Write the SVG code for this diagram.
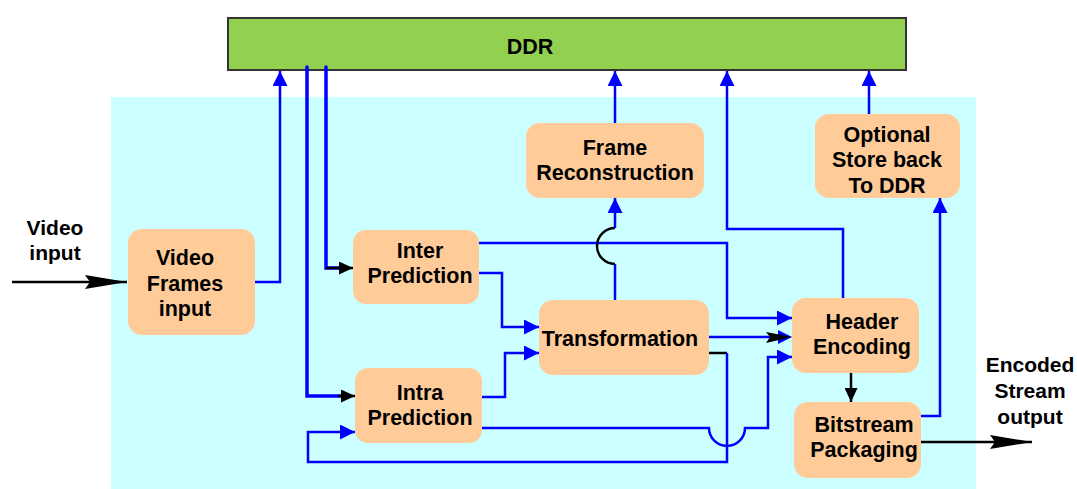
<svg xmlns="http://www.w3.org/2000/svg" width="1077" height="489" viewBox="0 0 1077 489">
<style>
.node{fill:#FFCC99;stroke:none}
.t{font-family:"Liberation Sans",Arial,sans-serif;font-weight:bold;font-size:21.5px;fill:#000;text-anchor:middle}
.lbl{font-family:"Liberation Sans",Arial,sans-serif;font-weight:bold;font-size:21px;fill:#000;text-anchor:middle}
.b{fill:none;stroke:#0000FF;stroke-width:2.5}
.bt{fill:none;stroke:#0000FF;stroke-width:3.5;stroke-linecap:round}
.k{fill:none;stroke:#000;stroke-width:2.5}
</style>
<defs>
<marker id="ab" markerUnits="userSpaceOnUse" markerWidth="15" markerHeight="15" refX="15" refY="7.5" orient="auto"><path d="M0,0 L15,7.5 L0,15 z" fill="#0000FF"/></marker>
<marker id="ak" markerUnits="userSpaceOnUse" markerWidth="14" markerHeight="13" refX="14" refY="6.5" orient="auto"><path d="M0,0 L14,6.5 L0,13 z" fill="#000"/></marker>
<marker id="akl" markerUnits="userSpaceOnUse" markerWidth="42" markerHeight="14" refX="42" refY="7" orient="auto"><path d="M0,0 L42,7 L0,14 L5,7 z" fill="#000"/></marker>
</defs>
<rect x="0" y="0" width="1077" height="489" fill="#FFFFFF"/>
<rect x="111" y="97" width="865" height="392" fill="#CCFFFF"/>
<g id="ddr">
<rect x="228" y="18" width="678" height="52" fill="#92D050" stroke="#333333" stroke-width="2"/>
<text class="t" x="530" y="54" font-size="20">DDR</text>
</g>
<g id="connectors">
<line class="k" x1="12" y1="282" x2="127" y2="282" marker-end="url(#akl)"/>
<polyline class="b" points="254,282 280,282 280,71" marker-end="url(#ab)"/>
<polyline class="bt" points="326,67 326,268 340,268"/>
<line class="k" x1="326" y1="268" x2="353" y2="268" marker-end="url(#ak)"/>
<polyline class="bt" points="307,67 307,396 340,396"/>
<line class="k" x1="338" y1="396" x2="355" y2="396" marker-end="url(#ak)"/>
<polyline class="b" points="478,273 502,273 502,327 539,327" marker-end="url(#ab)"/>
<polyline class="b" points="480,397 505,397 505,353 539,353" marker-end="url(#ab)"/>
<polyline class="b" points="474,243 727,243 727,318 792,318" marker-end="url(#ab)"/>
<path class="b" d="M615,300 L615,264"/>
<path d="M615,264 A18,18 0 0 1 615,228" fill="none" stroke="#000" stroke-width="2.5"/>
<path class="b" d="M615,228 L615,198" marker-end="url(#ab)"/>
<line class="b" x1="615" y1="123" x2="615" y2="71" marker-end="url(#ab)"/>
<polyline class="b" points="843,298 843,229 727,229 727,71" marker-end="url(#ab)"/>
<line class="b" x1="869" y1="114" x2="869" y2="71" marker-end="url(#ab)"/>
<line class="b" x1="708" y1="337" x2="778" y2="337"/>
<path d="M778,330 L792,337 L778,344 z" fill="#0000FF"/>
<path d="M766,332 L792,337 L766,343 L770,337 z" fill="#000"/>
<line class="k" x1="708" y1="353" x2="727" y2="353"/>
<polyline class="b" points="727,353 727,462 308,462 308,432 355,432" marker-end="url(#ab)"/>
<path class="b" d="M478,428 L709,428 A18,18 0 0 0 745,428 L768,428 L768,357 L792,357" marker-end="url(#ab)"/>
<line class="k" x1="851" y1="373" x2="851" y2="402" marker-end="url(#ak)"/>
<polyline class="b" points="919,416 940,416 940,198" marker-end="url(#ab)"/>
<line class="k" x1="921" y1="442" x2="1032" y2="442" marker-end="url(#akl)"/>
</g>
<g id="video-frames">
<rect class="node" x="128" y="229" width="127" height="106" rx="14"/>
<text class="t" x="185" y="265">Video</text>
<text class="t" x="185" y="291">Frames</text>
<text class="t" x="185" y="316">input</text>
</g>
<g id="inter">
<rect class="node" x="353" y="230" width="126" height="74" rx="13"/>
<text class="t" x="420" y="258">Inter</text>
<text class="t" x="420" y="283">Prediction</text>
</g>
<g id="intra">
<rect class="node" x="355" y="368" width="127" height="75" rx="13"/>
<text class="t" x="420" y="400">Intra</text>
<text class="t" x="420" y="425">Prediction</text>
</g>
<g id="frame-recon">
<rect class="node" x="526" y="123" width="178" height="75" rx="14"/>
<text class="t" x="615" y="155">Frame</text>
<text class="t" x="615" y="180">Reconstruction</text>
</g>
<g id="transformation">
<rect class="node" x="539" y="300" width="170" height="75" rx="14"/>
<text class="t" x="620" y="346">Transformation</text>
</g>
<g id="header">
<rect class="node" x="792" y="298" width="127" height="75" rx="14"/>
<text class="t" x="862" y="329">Header</text>
<text class="t" x="862" y="354">Encoding</text>
</g>
<g id="bitstream">
<rect class="node" x="794" y="402" width="127" height="76" rx="14"/>
<text class="t" x="864" y="432">Bitstream</text>
<text class="t" x="864" y="457">Packaging</text>
</g>
<g id="optional">
<rect class="node" x="815" y="114" width="145" height="84" rx="14"/>
<text class="t" x="887" y="142">Optional</text>
<text class="t" x="887" y="167">Store back</text>
<text class="t" x="887" y="193">To DDR</text>
</g>
<g id="labels">
<text class="lbl" x="55" y="235">Video</text>
<text class="lbl" x="55" y="260">input</text>
<text class="lbl" x="1030" y="372">Encoded</text>
<text class="lbl" x="1030" y="398">Stream</text>
<text class="lbl" x="1030" y="424">output</text>
</g>
</svg>
